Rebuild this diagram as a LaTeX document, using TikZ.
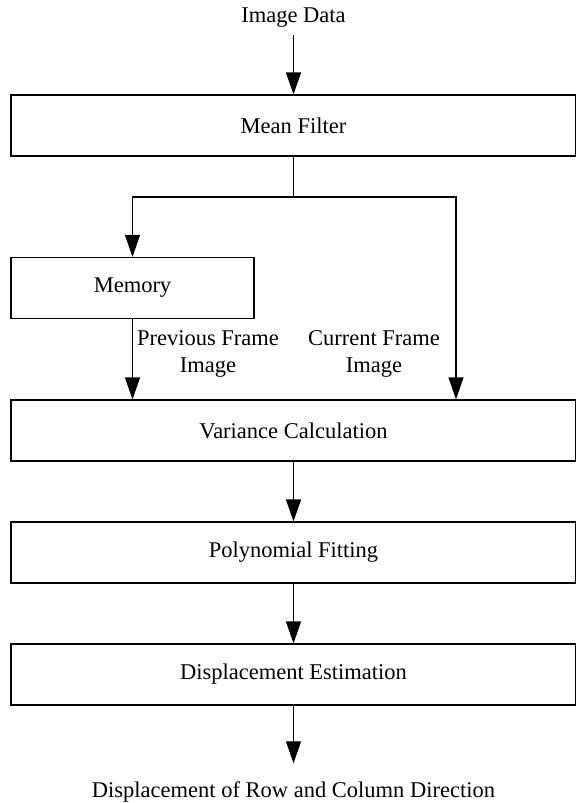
\documentclass[tikz,border=0pt]{standalone}
\usepackage{fontspec}
\setmainfont{Liberation Serif}
\usetikzlibrary{arrows.meta}

\tikzset{
  stage/.style={draw, line width=0.6pt, minimum width=282.5pt, minimum height=30.5pt, inner sep=0pt},
  flow/.style={-{Triangle[length=11pt,width=7.5pt]}, line width=0.6pt},
}

\begin{document}
\begin{tikzpicture}[x=0.5pt, y=-0.5pt, font=\fontsize{11.25}{13.5}\selectfont]
  \useasboundingbox (0,0) rectangle (576,803);
  \node (in) at (293.5,18) {Image Data};
  \node[stage] (mf) at (293.5,125.5) {Mean Filter};
  \node[stage, minimum width=121.5pt] (mem) at (132.5,288) {Memory};
  \foreach[count=\i] \sname/\stext in {var/Variance Calculation, fit/Polynomial Fitting, est/Displacement Estimation} {
    \node[stage] (\sname) at (293.5,308.5+122*\i) {\stext};
  }
  \node[inner sep=9pt] (out) at (293.5,792) {Displacement of Row and Column Direction};
  % frame labels beside the two inputs
  \node[align=center] (prev) at (208,354) {Previous Frame\\Image};
  \node[align=center] (cur) at (374,354) {Current Frame\\Image};

  \coordinate (fork) at (293.5,197);
  \coordinate (fork-r) at (456,197);
  \draw[flow] (in) -- (mf);
  \draw[line width=0.6pt] (mf) -- (fork);
  \draw[flow] (fork) -| (mem);
  \draw[flow] (fork) -- (fork-r) -- (fork-r |- var.north);
  \draw[flow] (mem) -- (mem |- var.north);
  \draw[flow] (var) -- (fit);
  \draw[flow] (fit) -- (est);
  \draw[flow] (est) -- (out);
\end{tikzpicture}
\end{document}
